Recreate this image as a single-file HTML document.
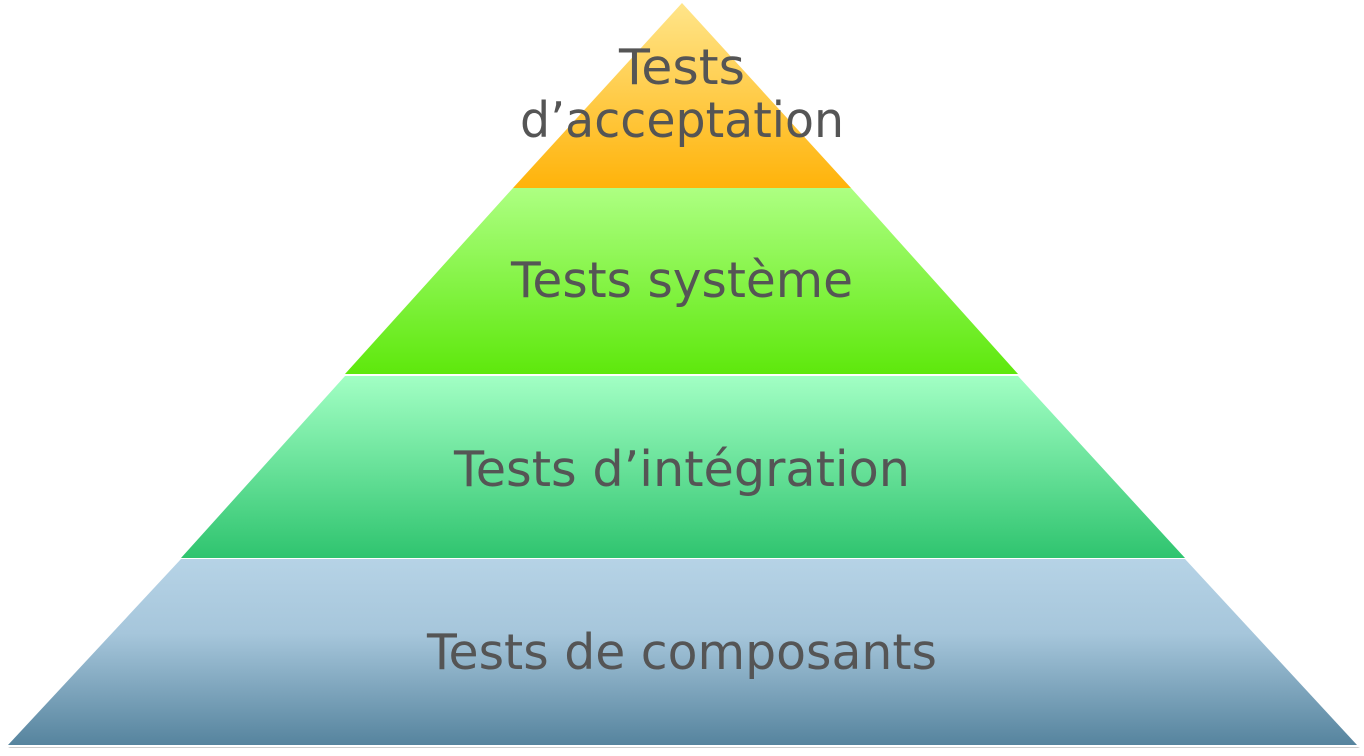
<!DOCTYPE html>
<html><head><meta charset="utf-8"><style>
html,body{margin:0;padding:0;background:#fff;}
svg{display:block}
text{font-family:"DejaVu Sans","Liberation Sans",sans-serif;font-size:49px;fill:#555;text-anchor:middle;}
</style></head><body>
<svg width="1364" height="756" viewBox="0 0 1364 756" xmlns="http://www.w3.org/2000/svg">
<defs>
<linearGradient id="g1" x1="0" y1="0" x2="0" y2="1"><stop offset="0" stop-color="#ffe58a"/><stop offset="1" stop-color="#ffb30a"/></linearGradient>
<linearGradient id="g2" x1="0" y1="0" x2="0" y2="1"><stop offset="0" stop-color="#adff82"/><stop offset="1" stop-color="#5ee80c"/></linearGradient>
<linearGradient id="g3" x1="0" y1="0" x2="0" y2="1"><stop offset="0" stop-color="#a2ffc4"/><stop offset="1" stop-color="#2fc46f"/></linearGradient>
<linearGradient id="g4" x1="0" y1="0" x2="0" y2="1"><stop offset="0" stop-color="#b6d3e6"/><stop offset="0.4" stop-color="#a6c6db"/><stop offset="1" stop-color="#56849e"/></linearGradient>
</defs>
<polygon points="10,748 1360,748 1358,747 8,747" fill="#ccc"/>
<polygon points="682,3 851,188 513,188" fill="url(#g1)"/>
<polygon points="513,188 851,188 1018,374 345,374" fill="url(#g2)"/>
<polygon points="345,376 1018,376 1185,558 181,558" fill="url(#g3)"/>
<polygon points="181,559 1185,559 1357,745 8,745" fill="url(#g4)"/>
<text x="682" y="84" textLength="126" lengthAdjust="spacingAndGlyphs">Tests</text>
<text x="682" y="137" textLength="324" lengthAdjust="spacingAndGlyphs">d’acceptation</text>
<text x="682" y="297" textLength="342" lengthAdjust="spacingAndGlyphs">Tests système</text>
<text x="682" y="486" textLength="456" lengthAdjust="spacingAndGlyphs">Tests d’intégration</text>
<text x="682" y="669" textLength="510" lengthAdjust="spacingAndGlyphs">Tests de composants</text>
</svg>
</body></html>
